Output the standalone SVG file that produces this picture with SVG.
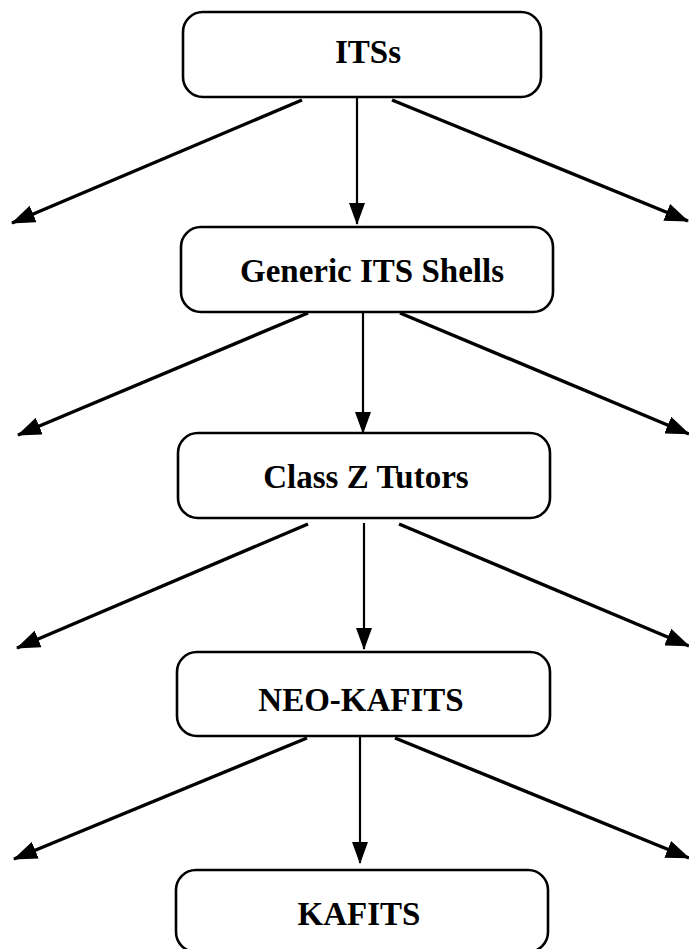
<svg xmlns="http://www.w3.org/2000/svg" width="689" height="949" viewBox="0 0 689 949">
<style>
.box{fill:#fff;stroke:#000;stroke-width:2.6}
.lbl{font-family:"Liberation Serif","Times New Roman",serif;font-weight:bold;font-size:33px;fill:#000;text-anchor:middle}
.diag{stroke:#000;stroke-width:3.4;fill:none}
.vert{stroke:#000;stroke-width:2.2;fill:none}
</style>
<defs>
<marker id="ah" viewBox="0 0 24 18" refX="23" refY="9" markerWidth="24" markerHeight="18" markerUnits="userSpaceOnUse" orient="auto">
<path d="M0,0 L24,9 L0,18 z" fill="#000"/>
</marker>
<marker id="av" viewBox="0 0 22 16" refX="21" refY="8" markerWidth="22" markerHeight="16" markerUnits="userSpaceOnUse" orient="auto">
<path d="M0,0 L22,8 L0,16 z" fill="#000"/>
</marker>
</defs>
<rect width="689" height="949" fill="#fff"/>
<g id="connectors">
<line class="diag" x1="302" y1="100" x2="12" y2="223" marker-end="url(#ah)"/>
<line class="vert" x1="357" y1="97" x2="357" y2="224" marker-end="url(#av)"/>
<line class="diag" x1="392" y1="100" x2="688" y2="221" marker-end="url(#ah)"/>
<line class="diag" x1="308" y1="313" x2="18" y2="435" marker-end="url(#ah)"/>
<line class="vert" x1="363" y1="312" x2="363" y2="433" marker-end="url(#av)"/>
<line class="diag" x1="400" y1="313" x2="689" y2="434" marker-end="url(#ah)"/>
<line class="diag" x1="308" y1="524" x2="17" y2="648" marker-end="url(#ah)"/>
<line class="vert" x1="364" y1="523" x2="364" y2="649" marker-end="url(#av)"/>
<line class="diag" x1="399" y1="524" x2="689" y2="646" marker-end="url(#ah)"/>
<line class="diag" x1="307" y1="738" x2="14" y2="859" marker-end="url(#ah)"/>
<line class="vert" x1="360" y1="737" x2="360" y2="863" marker-end="url(#av)"/>
<line class="diag" x1="395" y1="738" x2="689" y2="858" marker-end="url(#ah)"/>
</g>
<g id="node-itss">
<rect class="box" x="183" y="12" width="358" height="85" rx="20"/>
<text class="lbl" x="368" y="63">ITSs</text>
</g>
<g id="node-generic">
<rect class="box" x="181" y="227" width="372" height="85" rx="20"/>
<text class="lbl" x="372" y="282">Generic ITS Shells</text>
</g>
<g id="node-classz">
<rect class="box" x="178" y="433" width="372" height="85" rx="20"/>
<text class="lbl" x="366" y="488">Class Z Tutors</text>
</g>
<g id="node-neokafits">
<rect class="box" x="177" y="652" width="373" height="84" rx="20"/>
<text class="lbl" x="361" y="711">NEO-KAFITS</text>
</g>
<g id="node-kafits">
<rect class="box" x="176" y="870" width="372" height="82" rx="20"/>
<text class="lbl" x="359" y="925">KAFITS</text>
</g>
</svg>
